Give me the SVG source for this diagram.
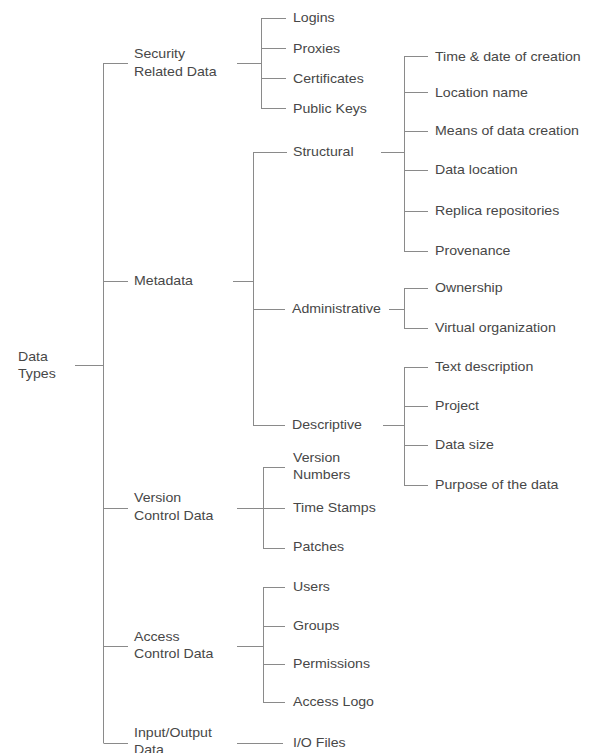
<svg xmlns="http://www.w3.org/2000/svg" width="589" height="753" viewBox="0 0 589 753">
  <style>
    .bg { fill: #ffffff; }
    .link { fill: none; stroke: #8a8a8a; stroke-width: 1; }
    text { font-family: "Liberation Sans", Arial, sans-serif; font-size: 12px; fill: #474747; }
  </style>
  <rect class="bg" x="0" y="0" width="589" height="753"/>

  <!-- connectors: spines and branch ticks -->
  <g id="connectors">
    <!-- root -->
    <path class="link" d="M75 365.5H103.5M103.5 63V743"/>
    <path class="link" d="M103.5 63.5H128M103.5 281.5H128M103.5 508.5H128M103.5 646.5H128M103.5 743.5H128"/>
    <!-- security related data -->
    <path class="link" d="M237 63.5H261.5M261.5 18V109M261.5 18.5H286M261.5 48.5H286M261.5 78.5H286M261.5 108.5H286"/>
    <!-- metadata -->
    <path class="link" d="M233 281.5H253.5M253.5 152V426M253.5 152.5H287M253.5 309.5H285M253.5 425.5H285"/>
    <!-- structural -->
    <path class="link" d="M381 152.5H404.5M404.5 56V252M404.5 56.5H428M404.5 92.5H428M404.5 131.5H428M404.5 170.5H428M404.5 211.5H428M404.5 251.5H428"/>
    <!-- administrative -->
    <path class="link" d="M389 309.5H404.5M404.5 288V329M404.5 288.5H428M404.5 328.5H428"/>
    <!-- descriptive -->
    <path class="link" d="M383 425.5H404.5M404.5 367V486M404.5 367.5H428M404.5 406.5H428M404.5 445.5H428M404.5 485.5H428"/>
    <!-- version control data -->
    <path class="link" d="M237 508.5H263.5M263.5 467V549M263.5 467.5H285M263.5 508.5H285M263.5 548.5H285"/>
    <!-- access control data -->
    <path class="link" d="M237 646.5H263.5M263.5 587V703M263.5 587.5H285M263.5 626.5H285M263.5 664.5H285M263.5 702.5H285"/>
    <!-- input/output data -->
    <path class="link" d="M237 743.5H283"/>
  </g>

  <!-- root -->
  <g id="data-types">
    <text transform="translate(18 361) scale(1.18 1)">Data</text>
    <text transform="translate(18 378) scale(1.18 1)">Types</text>
  </g>

  <!-- first level -->
  <g id="security-related-data">
    <text transform="translate(134 58) scale(1.18 1)">Security</text>
    <text transform="translate(134 76) scale(1.18 1)">Related Data</text>
  </g>
  <g id="metadata">
    <text transform="translate(134 285) scale(1.18 1)">Metadata</text>
  </g>
  <g id="version-control-data">
    <text transform="translate(134 502) scale(1.18 1)">Version</text>
    <text transform="translate(134 520) scale(1.18 1)">Control Data</text>
  </g>
  <g id="access-control-data">
    <text transform="translate(134 641) scale(1.18 1)">Access</text>
    <text transform="translate(134 658) scale(1.18 1)">Control Data</text>
  </g>
  <g id="input-output-data">
    <text transform="translate(134 737) scale(1.18 1)">Input/Output</text>
    <text transform="translate(134 754) scale(1.18 1)">Data</text>
  </g>

  <!-- security children -->
  <g id="logins"><text transform="translate(293 22) scale(1.18 1)">Logins</text></g>
  <g id="proxies"><text transform="translate(293 53) scale(1.18 1)">Proxies</text></g>
  <g id="certificates"><text transform="translate(293 83) scale(1.18 1)">Certificates</text></g>
  <g id="public-keys"><text transform="translate(293 113) scale(1.18 1)">Public Keys</text></g>

  <!-- metadata children -->
  <g id="structural"><text transform="translate(293 156) scale(1.18 1)">Structural</text></g>
  <g id="administrative"><text transform="translate(292 313) scale(1.18 1)">Administrative</text></g>
  <g id="descriptive"><text transform="translate(292 429) scale(1.18 1)">Descriptive</text></g>

  <!-- structural children -->
  <g id="time-date-of-creation"><text transform="translate(435 61) scale(1.18 1)">Time &amp; date of creation</text></g>
  <g id="location-name"><text transform="translate(435 97) scale(1.18 1)">Location name</text></g>
  <g id="means-of-data-creation"><text transform="translate(435 135) scale(1.18 1)">Means of data creation</text></g>
  <g id="data-location"><text transform="translate(435 174) scale(1.18 1)">Data location</text></g>
  <g id="replica-repositories"><text transform="translate(435 215) scale(1.18 1)">Replica repositories</text></g>
  <g id="provenance"><text transform="translate(435 255) scale(1.18 1)">Provenance</text></g>

  <!-- administrative children -->
  <g id="ownership"><text transform="translate(435 292) scale(1.18 1)">Ownership</text></g>
  <g id="virtual-organization"><text transform="translate(435 332) scale(1.18 1)">Virtual organization</text></g>

  <!-- descriptive children -->
  <g id="text-description"><text transform="translate(435 371) scale(1.18 1)">Text description</text></g>
  <g id="project"><text transform="translate(435 410) scale(1.18 1)">Project</text></g>
  <g id="data-size"><text transform="translate(435 449) scale(1.18 1)">Data size</text></g>
  <g id="purpose-of-the-data"><text transform="translate(435 489) scale(1.18 1)">Purpose of the data</text></g>

  <!-- version control children -->
  <g id="version-numbers">
    <text transform="translate(293 462) scale(1.18 1)">Version</text>
    <text transform="translate(293 479) scale(1.18 1)">Numbers</text>
  </g>
  <g id="time-stamps"><text transform="translate(293 512) scale(1.18 1)">Time Stamps</text></g>
  <g id="patches"><text transform="translate(293 551) scale(1.18 1)">Patches</text></g>

  <!-- access control children -->
  <g id="users"><text transform="translate(293 591) scale(1.18 1)">Users</text></g>
  <g id="groups"><text transform="translate(293 630) scale(1.18 1)">Groups</text></g>
  <g id="permissions"><text transform="translate(293 668) scale(1.18 1)">Permissions</text></g>
  <g id="access-logo"><text transform="translate(293 706) scale(1.18 1)">Access Logo</text></g>

  <!-- input/output children -->
  <g id="io-files"><text transform="translate(293 747) scale(1.18 1)">I/O Files</text></g>
</svg>
